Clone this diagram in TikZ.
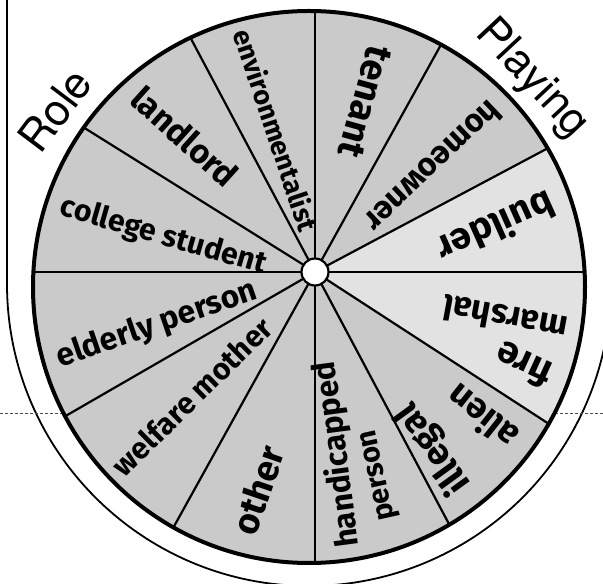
\documentclass[tikz,border=0pt]{standalone}
\usepackage{fontspec}
\usepackage{graphicx}
\newfontfamily\handfont{Fira Sans}
\newfontfamily\bannerfont{TeX Gyre Heros}
\definecolor{rpshade}{RGB}{202,202,202}
\definecolor{rplight}{RGB}{226,226,226}
\tikzset{
  rpspoke/.style={line width=2.2pt, draw=black},
  rprim/.style={line width=4pt, draw=black},
  rpframe/.style={line width=1.8pt, draw=black},
  rphub/.style={circle, draw=black, line width=2.2pt, fill=white, minimum size=27pt, inner sep=0pt},
  rplabel/.style={inner sep=0pt, font=\handfont\bfseries},
  rpbanner/.style={inner sep=0pt, font=\bannerfont\fontsize{44}{44}\selectfont},
  rpfold/.style={line width=.6pt, dash pattern=on 3pt off 2pt, draw=black!70}
}
\newcommand\hand[2]{\resizebox{#1pt}{!}{#2}}

\begin{document}
\begin{tikzpicture}[x=1pt, y=1pt]
  \useasboundingbox (0,0) rectangle (603,584);
  \clip (0,0) rectangle (603,584);
  \coordinate (c) at (309,297);
  \coordinate (hub) at (315,312);
  % outer frame and fold
  \draw[rpframe] (7,590) -- (7,300) arc[start angle=180, end angle=370, radius=302];
  \draw[rpfold] (0,171) -- (603,171);
  % wheel
  \begin{scope}
    \clip (c) circle[radius=276];
    \fill[rpshade] (c) circle[radius=276];
    \fill[rplight] (hub) -- ++(-33:420) arc[start angle=-33, end angle=28, radius=420] -- cycle;
    \foreach \a in {0,28,61,90,118,148,180,210,241,270,298,327}
      \draw[rpspoke] (hub) -- ++(\a:420);
  \end{scope}
  \draw[rprim] (c) circle[radius=276];
  \node[rphub] (hubdisc) at (hub) {};
  % title round the rim
  \node[rpbanner, rotate=53] (role) at (55,474) {Role};
  \node[rpbanner, rotate=-47] (playing) at (532,505) {Playing};
  % roles
  \node[rplabel, rotate=-71.5] (envir) at (276.5,454) {\hand{211}{environmentalist}};
  \node[rplabel, rotate=-42] (landlord) at (185,447.5) {\hand{130}{landlord}};
  \node[rplabel, rotate=-16] (student) at (163.5,347.5) {\hand{213}{college student}};
  \node[rplabel, rotate=19] (elderly) at (157,259) {\hand{210}{elderly person}};
  \node[rplabel, rotate=44.5] (welfare) at (192,187.5) {\hand{210}{welfare mother}};
  \node[rplabel, rotate=71] (other) at (258,94) {\hand{91}{other}};
  \node[rplabel, rotate=97.5] (handic) at (337.5,129.5) {\hand{187}{handicapped}};
  \node[rplabel, rotate=102.5] (person) at (380,109) {\hand{92}{person}};
  \node[rplabel, rotate=126] (illegal) at (433,135.5) {\hand{102}{illegal}};
  \node[rplabel, rotate=141.5] (alien) at (481.5,166) {\hand{80}{alien}};
  \node[rplabel, rotate=169.5] (marshal) at (505,265.5) {\hand{126}{marshal}};
  \node[rplabel, rotate=155.5] (fire) at (523.5,219) {\hand{58}{fire}};
  \node[rplabel, rotate=-156] (builder) at (496.5,356) {\hand{124}{builder}};
  \node[rplabel, rotate=-136.5] (owner) at (433.5,417) {\hand{175}{homeowner}};
  \node[rplabel, rotate=-105.5] (tenant) at (365,482) {\hand{114}{tenant}};
\end{tikzpicture}
\end{document}
